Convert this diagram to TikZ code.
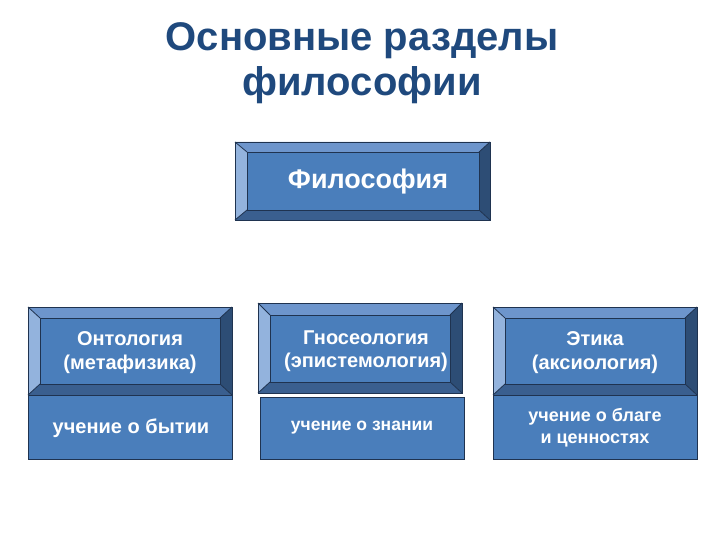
\documentclass[tikz,border=0pt]{standalone}
\usepackage{fontspec}
\setmainfont{Liberation Sans}
\definecolor{face}{HTML}{4A7EBB}
\definecolor{btop}{HTML}{6D95CC}
\definecolor{bleft}{HTML}{93B3DD}
\definecolor{bright}{HTML}{2D4D75}
\definecolor{bbot}{HTML}{3A5F8F}
\definecolor{edge}{HTML}{1F3350}
\definecolor{titleblue}{HTML}{1F497D}
\tikzset{
  edgeline/.style={draw=edge, line width=0.8pt},
  lbl/.style={text=white, font=\bfseries\fontsize{20}{24}\selectfont, align=center, inner sep=0pt},
  biglbl/.style={text=white, font=\bfseries\fontsize{27}{30}\selectfont, align=center, inner sep=0pt},
  lowbox/.style={edgeline, fill=face},
  ttl/.style={text=titleblue, font=\bfseries\fontsize{40}{45}\selectfont, align=center, inner sep=0pt}
}
% bevel box: outer x1,y1,x2,y2 ; inner ix1,iy1,ix2,iy2
\newcommand\mybevel[8]{%
  \fill[btop] (#1,#2) -- (#3,#2) -- (#7,#6) -- (#5,#6) -- cycle;
  \fill[bleft] (#1,#2) -- (#5,#6) -- (#5,#8) -- (#1,#4) -- cycle;
  \fill[bright] (#3,#2) -- (#3,#4) -- (#7,#8) -- (#7,#6) -- cycle;
  \fill[bbot] (#1,#4) -- (#3,#4) -- (#7,#8) -- (#5,#8) -- cycle;
  \fill[face] (#5,#6) rectangle (#7,#8);
  \draw[edgeline] (#1,#2) rectangle (#3,#4);
  \draw[edgeline] (#5,#6) rectangle (#7,#8);
  \draw[edgeline] (#1,#2) -- (#5,#6) (#3,#2) -- (#7,#6) (#1,#4) -- (#5,#8) (#3,#4) -- (#7,#8);
}
\begin{document}
\begin{tikzpicture}[x=1pt,y=-1pt]
\useasboundingbox (0,0) rectangle (720,540);
\node[ttl] (title) at (362,63) {Основные разделы\\философии};

\mybevel{235}{142}{490}{220}{247}{152}{479}{210}
\node[biglbl] (phil) at (368,182) {Философия};

\mybevel{28}{307}{232}{395}{40}{318}{220}{384}
\node[lbl] (onto) at (130,353) {Онтология\\(метафизика)};
\draw[lowbox] (28,395) rectangle (232,459);
\node[lbl] (ontod) at (131,428) {учение о бытии};

\mybevel{258}{303}{462}{393}{270}{315}{450}{382}
\node[lbl, font=\bfseries\fontsize{20}{23}\selectfont] (gnos) at (366,351) {Гносеология\\(эпистемология)};
\draw[lowbox] (260,397) rectangle (464,459);
\node[lbl, font=\bfseries\fontsize{17.5}{21}\selectfont] (gnosd) at (362,428) {учение о знании};

\mybevel{493}{307}{697}{395}{505}{318}{685}{384}
\node[lbl] (eth) at (595,353) {Этика\\(аксиология)};
\draw[lowbox] (493,395) rectangle (697,459);
\node[lbl, font=\bfseries\fontsize{18}{22}\selectfont] (ethd) at (595,428) {учение о благе\\и ценностях};
\end{tikzpicture}
\end{document}
